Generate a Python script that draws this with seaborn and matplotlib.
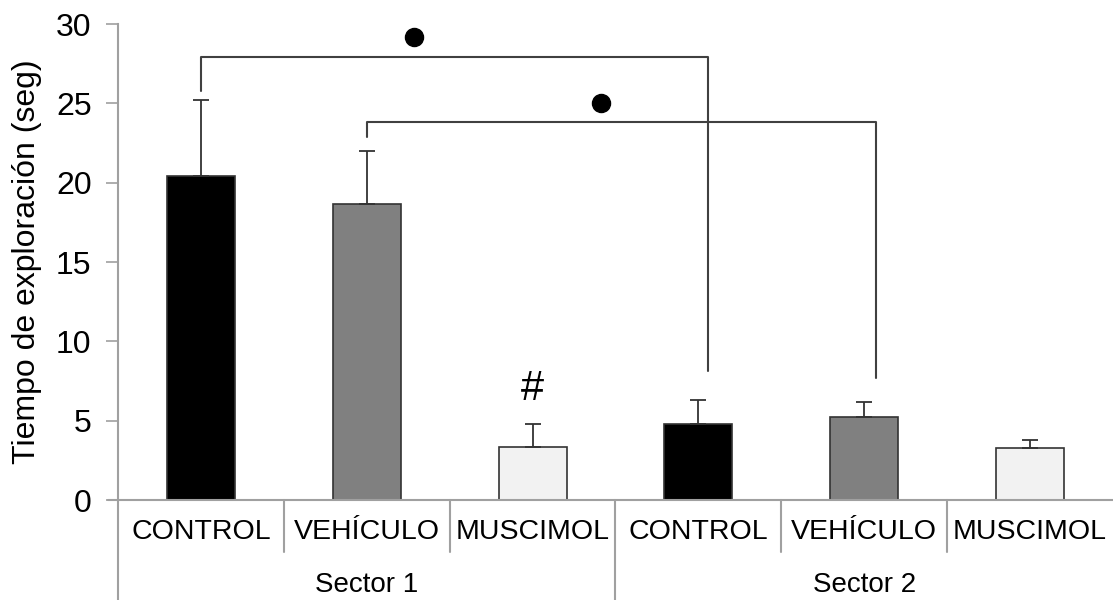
import matplotlib
matplotlib.use("Agg")
import matplotlib.pyplot as plt
import matplotlib.transforms as mtransforms
import seaborn as sns
import pandas as pd
import numpy as np

# ---- data ----
sectors = ["Sector 1", "Sector 1", "Sector 1", "Sector 2", "Sector 2", "Sector 2"]
treatments = ["CONTROL", "VEHÍCULO", "MUSCIMOL", "CONTROL", "VEHÍCULO", "MUSCIMOL"]
means = [20.4, 18.65, 3.35, 4.8, 5.2, 3.3]
errors = [4.8, 3.35, 1.45, 1.5, 1.0, 0.5]
sector_names = ["Sector 1", "Sector 2"]
yticks = [0, 5, 10, 15, 20, 25, 30]
ylabel = "Tiempo de exploración (seg)"
palette = {"CONTROL": "#000000", "VEHÍCULO": "#808080", "MUSCIMOL": "#f2f2f2"}

# significance annotations: (left x, right x, bar height, left leg end, right leg end, marker x, marker y)
brackets = [
    (0.0, 3.06, 27.9, 25.8, 8.1, 1.285, 29.2),
    (1.0, 4.07, 23.8, 22.9, 7.7, 2.41, 25.0),
]
hash_bar = 2
hash_y = 7.0

sns.set_theme(style="white")
plt.rcParams["font.family"] = ["Liberation Sans", "DejaVu Sans"]
plt.rcParams["text.color"] = "black"
plt.rcParams["axes.labelcolor"] = "black"
plt.rcParams["xtick.labelcolor"] = "black"
plt.rcParams["ytick.labelcolor"] = "black"

df = pd.DataFrame({
    "key": [f"{s}|{t}" for s, t in zip(sectors, treatments)],
    "sector": sectors,
    "treatment": treatments,
    "mean": means,
    "err": errors,
})

fig = plt.figure(figsize=(11.13, 6.0), dpi=100)
ax = fig.add_axes([118 / 1113, 100 / 600, (1113 - 118) / 1113, 476 / 600])

sns.barplot(data=df, x="key", y="mean", hue="treatment", palette=palette,
            dodge=False, width=0.41, edgecolor="#333333", linewidth=1.2,
            legend=False, ax=ax, errorbar=None, order=list(df["key"]))

xpos = np.arange(len(df))
ax.errorbar(xpos, df["mean"], yerr=[np.zeros(len(df)), df["err"]], fmt="none",
            ecolor="#333333", elinewidth=1.3, capsize=6, capthick=1.3, zorder=3)

ax.set_xlim(-0.5, len(df) - 0.5)
ax.set_ylim(0, 30)
ax.set_yticks(yticks)
ax.set_yticklabels([str(v) for v in yticks], fontsize=23, color="black")
ax.set_ylabel(ylabel, fontsize=23, labelpad=10, color="black")
ax.set_xlabel("")
ax.set_xticks(xpos)
ax.set_xticklabels(treatments, fontsize=20.5, color="black")
ax.tick_params(axis="x", length=0, pad=14)
ax.tick_params(axis="y", length=9, width=1.2, color="#a0a0a0", pad=10, left=True)

for side in ["top", "right"]:
    ax.spines[side].set_visible(False)
ax.spines["bottom"].set_visible(False)
ax.spines["left"].set_color("#a0a0a0")
ax.spines["left"].set_linewidth(1.5)

trans = mtransforms.blended_transform_factory(ax.transData, ax.transAxes)
# x axis line extending slightly left of y axis
ax.plot([-0.56, len(df) - 0.5], [0, 0], transform=trans, color="#a0a0a0", lw=1.5, clip_on=False, zorder=4)
# separators
for b in np.arange(-0.5, len(df), 1.0):
    if b in (-0.5, 2.5):
        ax.plot([b, b], [0, -0.215], transform=trans, color="#a0a0a0", lw=1.5, clip_on=False)
    elif b < len(df) - 0.5:
        ax.plot([b, b], [0, -0.11], transform=trans, color="#a0a0a0", lw=1.5, clip_on=False)
# sector labels
for i, name in enumerate(sector_names):
    ax.text(1 + 3 * i, -0.178, name, transform=trans, ha="center", va="center", fontsize=20, color="black")

# brackets
for (xl, xr, top, lend, rend, mx, my) in brackets:
    ax.plot([xl, xl, xr, xr], [lend, top, top, rend], color="#404040", lw=1.5, zorder=5)
    ax.plot([mx], [my], "o", color="black", markersize=13, zorder=5)

ax.text(xpos[hash_bar], hash_y, "#", ha="center", va="center", fontsize=30, color="black")

fig.savefig("out.png", dpi=100)
